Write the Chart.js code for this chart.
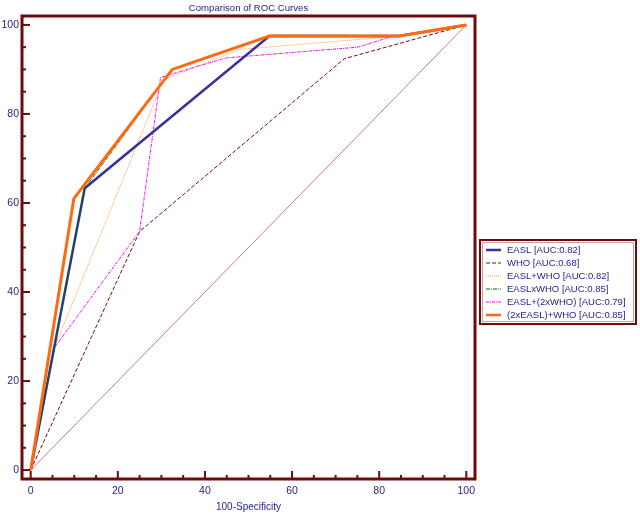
<!DOCTYPE html>
<html>
<head>
<meta charset="utf-8">
<script src="https://cdn.jsdelivr.net/npm/chart.js@4"></script>
<style>
html, body { margin: 0; padding: 0; background: #fff; }
</style>
</head>
<body>
<canvas id="roc" width="640" height="515"></canvas>
<script>
// ROC points (x = 100-Specificity, y = Sensitivity)
const seriesNames = ['EASL [AUC:0.82]', 'WHO [AUC:0.68]', 'EASL+WHO [AUC:0.82]', 'EASLxWHO [AUC:0.85]', 'EASL+(2xWHO) [AUC:0.79]', '(2xEASL)+WHO [AUC:0.85]'];

const easlX = [0, 12.4, 54.8, 84.6, 100];
const easlY = [0, 63.3, 97.5, 97.5, 100];

const whoX = [0, 25, 72, 100];
const whoY = [0, 53.6, 92.4, 100];

const easlPlusWhoX = [0, 5.5, 30.5, 48, 82.3, 100];
const easlPlusWhoY = [0, 27.6, 87.7, 94.5, 97.3, 100];

const easlTimesWhoX = [0, 12.4, 32.5, 54.8, 84.6, 100];
const easlTimesWhoY = [0, 63.3, 90, 97.5, 97.5, 100];

const easlTwoWhoX = [0, 5.5, 25, 29.8, 44.9, 75.1, 82.3, 100];
const easlTwoWhoY = [0, 27.6, 53.6, 88.2, 92.6, 95, 97.2, 100];

const twoEaslWhoX = [0, 9.9, 32.5, 54.8, 84.6, 100];
const twoEaslWhoY = [0, 61, 90, 97.5, 97.5, 100];

const refX = [0, 100];
const refY = [0, 100];

const tickValues = [0, 5, 10, 15, 20, 25, 30, 35, 40, 45, 50, 55, 60, 65, 70, 75, 80, 85, 90, 95, 100];

const textColor = '#25258a';
const frameColor = '#6d0a0a';
const fontName = '"Liberation Sans", Arial, sans-serif';

function pts(xs, ys) {
    return xs.map((x, i) => ({ x: x, y: ys[i] }));
}

// frame, inward ticks, title and legend box
const decorations = {
    id: 'decorations',
    afterDraw(chart) {
        const ctx = chart.ctx;
        const a = chart.chartArea;
        const sx = chart.scales.x;
        const sy = chart.scales.y;
        ctx.save();

        ctx.strokeStyle = frameColor;
        ctx.lineWidth = 2;
        tickValues.forEach(v => {
            const len = v % 20 === 0 ? 8 : 4;
            const px = sx.getPixelForValue(v);
            ctx.beginPath();
            ctx.moveTo(px, a.bottom);
            ctx.lineTo(px, a.bottom - len);
            ctx.stroke();
            const py = sy.getPixelForValue(v);
            ctx.beginPath();
            ctx.moveTo(a.left, py);
            ctx.lineTo(a.left + len, py);
            ctx.stroke();
        });
        ctx.lineWidth = 3;
        ctx.strokeRect(a.left, a.top, a.right - a.left, a.bottom - a.top);

        // title
        ctx.fillStyle = textColor;
        ctx.font = '9.6px ' + fontName;
        ctx.textAlign = 'center';
        ctx.textBaseline = 'middle';
        ctx.fillText('Comparison of ROC Curves', (a.left + a.right) / 2, 8);

        // legend
        const bx = 480, by = 240, bw = 156, bh = 84;
        ctx.lineWidth = 2;
        ctx.strokeStyle = frameColor;
        ctx.strokeRect(bx, by, bw, bh);
        ctx.lineWidth = 1;
        ctx.strokeStyle = '#c9a0a0';
        ctx.strokeRect(bx + 2.5, by + 2.5, bw - 5, bh - 5);

        ctx.textAlign = 'left';
        ctx.font = '9.5px ' + fontName;
        let row = 0;
        chart.data.datasets.forEach(ds => {
            if (!ds.label) return;
            const y = 250 + row * 13;
            ctx.save();
            ctx.strokeStyle = ds.borderColor;
            ctx.lineWidth = Math.min(ds.borderWidth, 2.5);
            ctx.setLineDash(ds.borderDash || []);
            ctx.beginPath();
            ctx.moveTo(486, y);
            ctx.lineTo(501, y);
            ctx.stroke();
            ctx.restore();
            ctx.fillStyle = textColor;
            ctx.fillText(ds.label, 507, y);
            row++;
        });
        ctx.restore();
    }
};

const ctx = document.getElementById('roc').getContext('2d');

const chart = new Chart(ctx, {
    type: 'line',
    data: {
        datasets: [
            { label: seriesNames[0], data: pts(easlX, easlY), borderColor: '#33339a', borderWidth: 2.5, order: 5 },
            { label: seriesNames[1], data: pts(whoX, whoY), borderColor: '#7a0a0a', borderWidth: 1, borderDash: [4, 2], order: 8 },
            { label: seriesNames[2], data: pts(easlPlusWhoX, easlPlusWhoY), borderColor: '#ff9a40', borderWidth: 1, borderDash: [1, 1], order: 7 },
            { label: seriesNames[3], data: pts(easlTimesWhoX, easlTimesWhoY), borderColor: '#006600', borderWidth: 1, borderDash: [4, 1, 1, 1], order: 4 },
            { label: seriesNames[4], data: pts(easlTwoWhoX, easlTwoWhoY), borderColor: '#ff00ff', borderWidth: 1, borderDash: [3, 1, 1, 1], order: 6 },
            { label: seriesNames[5], data: pts(twoEaslWhoX, twoEaslWhoY), borderColor: '#ff6a10', borderWidth: 3, order: 3 },
            { label: '', data: pts(refX, refY), borderColor: '#b06060', borderWidth: 0.8, order: 9 }
        ]
    },
    options: {
        responsive: false,
        animation: false,
        events: [],
        layout: { padding: { top: 16, right: 165, left: 0, bottom: 0 } },
        elements: {
            point: { radius: 0 },
            line: { tension: 0, fill: false }
        },
        plugins: {
            legend: { display: false },
            tooltip: { enabled: false }
        },
        scales: {
            x: {
                type: 'linear',
                min: -2,
                max: 102,
                afterBuildTicks: s => { s.ticks = tickValues.map(v => ({ value: v })); },
                afterFit: s => { s.height = 36; },
                grid: { display: false, drawTicks: false },
                border: { display: false },
                ticks: {
                    autoSkip: false,
                    maxRotation: 0,
                    padding: 6,
                    color: textColor,
                    font: { family: fontName, size: 10.5 },
                    callback: v => (v % 20 === 0 ? v : '')
                },
                title: {
                    display: true,
                    text: '100-Specificity',
                    color: textColor,
                    font: { family: fontName, size: 10 },
                    padding: { top: 0, bottom: 2 }
                }
            },
            y: {
                type: 'linear',
                min: -2,
                max: 102,
                afterBuildTicks: s => { s.ticks = tickValues.map(v => ({ value: v })); },
                afterFit: s => { s.width = 22; },
                grid: { display: false, drawTicks: false },
                border: { display: false },
                ticks: {
                    autoSkip: false,
                    padding: 3,
                    color: textColor,
                    font: { family: fontName, size: 10.5 },
                    callback: v => (v % 20 === 0 ? v : '')
                }
            }
        }
    },
    plugins: [decorations]
});
</script>
</body>
</html>
